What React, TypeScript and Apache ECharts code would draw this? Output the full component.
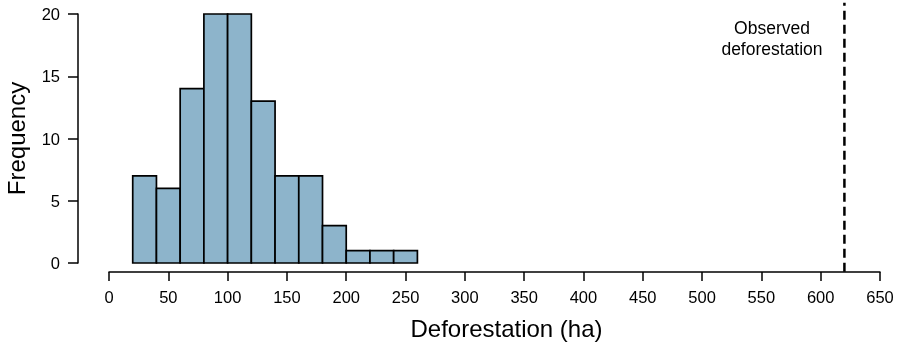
import React, { useEffect, useRef } from "react";
import * as echarts from "echarts";

const binStarts = [20, 40, 60, 80, 100, 120, 140, 160, 180, 200, 220, 240];
const binWidth = 20;
const counts = [7, 6, 14, 20, 20, 13, 7, 7, 3, 1, 1, 1];
const observed = 620;
const observedLineY = [-0.7, 20.9];
const xTitle = "Deforestation (ha)";
const yTitle = "Frequency";
const annotation = ["Observed", "deforestation"];

export default function App() {
  const ref = useRef<HTMLDivElement>(null);
  useEffect(() => {
    if (!ref.current) return;
    const chart = echarts.init(ref.current, null, { renderer: "svg" });
    const data = binStarts.map((s, i) => [s, s + binWidth, counts[i]]);
    const font = "'Liberation Sans', Arial, Helvetica, sans-serif";
    chart.setOption({
      animation: false,
      textStyle: { fontFamily: font },
      grid: { left: 109, right: 19, top: 14, bottom: 85, containLabel: false, outerBoundsMode: "none" },
      xAxis: {
        type: "value",
        min: 0,
        max: 650,
        interval: 50,
        offset: 9,
        name: xTitle,
        nameLocation: "middle",
        nameGap: 44,
        nameTextStyle: { fontSize: 24, color: "#000", fontFamily: font, padding: [0, 0, 0, 24] },
        axisLine: { show: true, onZero: false, lineStyle: { color: "#000", width: 1.5 } },
        axisTick: { show: true, length: 9, lineStyle: { color: "#000", width: 1.5 } },
        axisLabel: { fontSize: 16.5, color: "#000", margin: 16, fontFamily: font },
        splitLine: { show: false },
      },
      yAxis: {
        type: "value",
        min: 0,
        max: 20,
        interval: 5,
        offset: 31,
        name: yTitle,
        nameLocation: "middle",
        nameGap: 50,
        nameRotate: 90,
        nameTextStyle: { fontSize: 24, color: "#000", fontFamily: font },
        axisLine: { show: true, onZero: false, lineStyle: { color: "#000", width: 1.5 } },
        axisTick: { show: true, length: 10, lineStyle: { color: "#000", width: 1.5 } },
        axisLabel: { fontSize: 16.5, color: "#000", margin: 18, fontFamily: font },
        splitLine: { show: false },
      },
      series: [
        {
          type: "custom",
          data,
          renderItem: (params: any, api: any) => {
            const p0 = api.coord([api.value(0), 0]);
            const p1 = api.coord([api.value(1), api.value(2)]);
            return {
              type: "rect",
              shape: { x: p0[0], y: p1[1], width: p1[0] - p0[0], height: p0[1] - p1[1] },
              style: { fill: "#8db4cb", stroke: "#000", lineWidth: 1.7 },
            };
          },
          encode: { x: [0, 1], y: 2 },
        },
        {
          type: "line",
          data: observedLineY.map((y) => [observed, y]),
          clip: false,
          symbol: "none",
          silent: true,
          lineStyle: { color: "#000", type: [9, 5], width: 2.5 },
        },
      ],
      graphic: [
        {
          type: "text",
          x: 772,
          y: 17,
          style: {
            text: annotation.join("\n"),
            fontSize: 17.5,
            lineHeight: 21,
            fill: "#000",
            align: "center",
            fontFamily: font,
          },
        },
      ],
    });
    return () => chart.dispose();
  }, []);
  return <div ref={ref} style={{ position: "fixed", left: 0, top: 0, width: 899, height: 348 }} />;
}
